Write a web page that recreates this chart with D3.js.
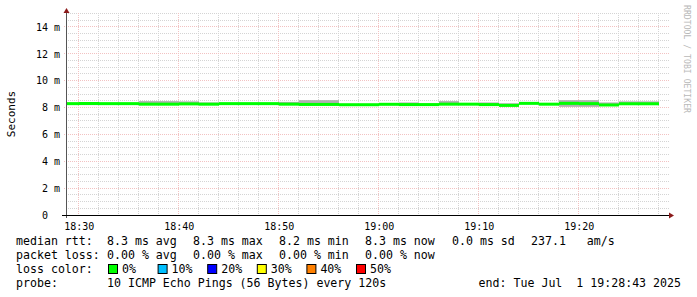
<!DOCTYPE html>
<html>
<head>
<meta charset="utf-8">
<script src="https://cdn.jsdelivr.net/npm/d3@7/dist/d3.min.js"></script>
<style>
  html, body { margin: 0; padding: 0; background: #fff; }
  svg { display: block; }
  text { font-family: "DejaVu Sans Mono", monospace; white-space: pre; }
</style>
</head>
<body>
<div id="chart"></div>
<script>
// 2-minute buckets, labelled by their end time
const bucketEnds = [
  "18:30", "18:32", "18:34", "18:36", "18:38", "18:40", "18:42", "18:44", "18:46", "18:48",
  "18:50", "18:52", "18:54", "18:56", "18:58", "19:00", "19:02", "19:04", "19:06", "19:08",
  "19:10", "19:12", "19:14", "19:16", "19:18", "19:20", "19:22", "19:24", "19:26", "19:28"
];
// median rtt (ms)
const median = [
  8.29, 8.30, 8.29, 8.29, 8.25, 8.25, 8.27, 8.25, 8.29, 8.29,
  8.29, 8.25, 8.23, 8.23, 8.21, 8.21, 8.24, 8.22, 8.22, 8.25,
  8.25, 8.22, 8.16, 8.31, 8.25, 8.31, 8.29, 8.19, 8.28, 8.28
];
// smoke: spread of the pings (ms)
const smokeHi = [
  8.33, 8.33, 8.33, 8.33, 8.48, 8.48, 8.46, 8.38, 8.33, 8.33,
  8.33, 8.42, 8.55, 8.55, 8.25, 8.25, 8.28, 8.38, 8.26, 8.48,
  8.29, 8.38, 8.32, 8.35, 8.29, 8.55, 8.55, 8.38, 8.46, 8.46
];
const smokeLo = [
  8.25, 8.18, 8.25, 8.25, 8.21, 8.21, 8.23, 8.21, 8.25, 8.25,
  8.25, 8.21, 8.19, 8.19, 8.17, 8.17, 8.20, 8.18, 8.18, 8.21,
  8.21, 8.18, 8.08, 8.27, 8.21, 8.05, 8.05, 8.15, 8.24, 8.24
];

const yTicks = [0, 2, 4, 6, 8, 10, 12, 14];
const lossLabels = ["0%", "10%", "20%", "30%", "40%", "50%"];
const lossColors = ["#00ff00", "#00bfff", "#0000ff", "#ffff00", "#ff8000", "#ff0000"];

const rttLegend = ["median rtt:", "8.3 ms avg", "8.3 ms max", "8.2 ms min", "8.3 ms now", "0.0 ms sd", "237.1   am/s"];
const lossLegend = ["packet loss:", "0.00 % avg", "0.00 % max", "0.00 % min", "0.00 % now"];
const probeText = "10 ICMP Echo Pings (56 Bytes) every 120s";
const endText = "end: Tue Jul  1 19:28:43 2025";

const width = 697, height = 297;
const parseT = d3.timeParse("%Y-%m-%d %H:%M:%S");
const start = parseT("2025-07-01 18:28:43");
const end = parseT("2025-07-01 19:28:43");

const svg = d3.select("#chart").append("svg")
  .attr("width", width).attr("height", height);

const x = d3.scaleTime().domain([start, end]).range([66, 666]);
const y = d3.scaleLinear().domain([0, 15]).range([215, 13.5]);
const plotL = 66, plotR = 669, plotT = 13, plotB = 215;
const px = v => Math.floor(v) + 0.5;

// grid: minor
const g = svg.append("g");
d3.range(0, 15.01, 0.5).filter(v => v % 2 !== 0).forEach(v => {
  g.append("line").attr("x1", plotL).attr("x2", plotR)
    .attr("y1", px(y(v))).attr("y2", px(y(v)))
    .attr("stroke", "#d4d4d4").attr("stroke-dasharray", "1,1");
});
const minorT = d3.timeMinute.every(2).range(start, end);
minorT.filter(t => t.getMinutes() % 10 !== 0).forEach(t => {
  g.append("line").attr("x1", px(x(t))).attr("x2", px(x(t)))
    .attr("y1", plotT).attr("y2", plotB)
    .attr("stroke", "#d4d4d4").attr("stroke-dasharray", "1,1");
});
// grid: major
const majorT = d3.timeMinute.every(10).range(start, end);
majorT.forEach(t => {
  g.append("line").attr("x1", px(x(t))).attr("x2", px(x(t)))
    .attr("y1", plotT).attr("y2", plotB + 2)
    .attr("stroke", "#f2c2c2").attr("stroke-dasharray", "1,1");
});
yTicks.forEach(v => {
  g.append("line").attr("x1", plotL - 2).attr("x2", plotR)
    .attr("y1", px(y(v))).attr("y2", px(y(v)))
    .attr("stroke", "#f2c2c2").attr("stroke-dasharray", "1,1");
});

// data
const fmt = d3.timeParse("%H:%M");
const buckets = bucketEnds.map((s, i) => {
  const t = fmt(s);
  const t1 = new Date(start); t1.setHours(t.getHours(), t.getMinutes(), 0, 0);
  const t0 = new Date(Math.max(+start, +t1 - 120000));
  return { t0, t1, m: median[i], hi: smokeHi[i], lo: smokeLo[i] };
});

svg.append("g").selectAll("rect").data(buckets).enter().append("rect")
  .attr("x", d => Math.round(x(d.t0)))
  .attr("width", d => Math.round(x(d.t1)) - Math.round(x(d.t0)))
  .attr("y", d => y(d.hi))
  .attr("height", d => y(d.lo) - y(d.hi))
  .attr("fill", "#b0b0b0");

svg.append("g").selectAll("rect").data(buckets).enter().append("rect")
  .attr("x", d => Math.round(x(d.t0)))
  .attr("width", d => Math.round(x(d.t1)) - Math.round(x(d.t0)))
  .attr("y", d => y(d.m) - 1.5)
  .attr("height", 3)
  .attr("fill", lossColors[0]);

// axes
const xAxis = svg.append("g").attr("transform", `translate(0,${px(plotB)})`)
  .call(d3.axisBottom(x).tickValues(majorT).tickFormat(d3.timeFormat("%H:%M")).tickSize(0).tickPadding(7));
xAxis.select(".domain").remove();
xAxis.selectAll("text").attr("font-size", 10).attr("fill", "#000")
  .attr("font-family", "DejaVu Sans Mono");

const yAxis = svg.append("g").attr("transform", `translate(${plotL - 6},0)`)
  .call(d3.axisLeft(y).tickValues(yTicks).tickFormat(v => v === 0 ? "0  " : v + " m").tickSize(0).tickPadding(0));
yAxis.select(".domain").remove();
yAxis.selectAll("text").attr("font-size", 10).attr("fill", "#000")
  .attr("font-family", "DejaVu Sans Mono");

svg.append("line").attr("x1", px(plotL)).attr("x2", px(plotL))
  .attr("y1", 12).attr("y2", plotB + 3).attr("stroke", "#555");
svg.append("line").attr("x1", plotL - 4).attr("x2", plotR + 1)
  .attr("y1", px(plotB)).attr("y2", px(plotB)).attr("stroke", "#000");
svg.append("path").attr("d", `M${plotL - 2.5},13 L${plotL + 3.5},13 L${plotL + 0.5},8 Z`).attr("fill", "#8b1a1a");
svg.append("path").attr("d", `M${plotR},${plotB - 2.5} L${plotR},${plotB + 3.5} L${plotR + 5},${plotB + 0.5} Z`).attr("fill", "#8b1a1a");

// y title
svg.append("text").attr("transform", "translate(15,114) rotate(-90)")
  .attr("text-anchor", "middle").attr("font-size", 11).attr("fill", "#000")
  .text("Seconds");

// watermark
svg.append("text").attr("transform", "translate(684,5) rotate(90)")
  .attr("font-size", 8.2).attr("fill", "#b8b8b8")
  .attr("textLength", 108).attr("lengthAdjust", "spacingAndGlyphs")
  .text("RRDTOOL / TOBI OETIKER");

// legend
const lf = 11.6;
const colX = [16, 107, 193, 279, 365, 452, 531];
const leg = svg.append("g").attr("font-size", lf).attr("fill", "#000");
rttLegend.forEach((s, i) => leg.append("text").attr("x", colX[i]).attr("y", 245).text(s));
lossLegend.forEach((s, i) => leg.append("text").attr("x", colX[i]).attr("y", 259).text(s));
leg.append("text").attr("x", 16).attr("y", 273).text("loss color:");
lossLabels.forEach((s, i) => {
  const bx = 108 + i * 49.6;
  leg.append("rect").attr("x", bx + 0.5).attr("y", 264.5).attr("width", 9).attr("height", 9)
    .attr("fill", lossColors[i]).attr("stroke", "#000");
  leg.append("text").attr("x", bx + 14).attr("y", 273).text(s);
});
leg.append("text").attr("x", 16).attr("y", 287).text("probe:");
leg.append("text").attr("x", 107).attr("y", 287).text(probeText);
leg.append("text").attr("x", 681).attr("y", 287).attr("text-anchor", "end").text(endText);
</script>
</body>
</html>
